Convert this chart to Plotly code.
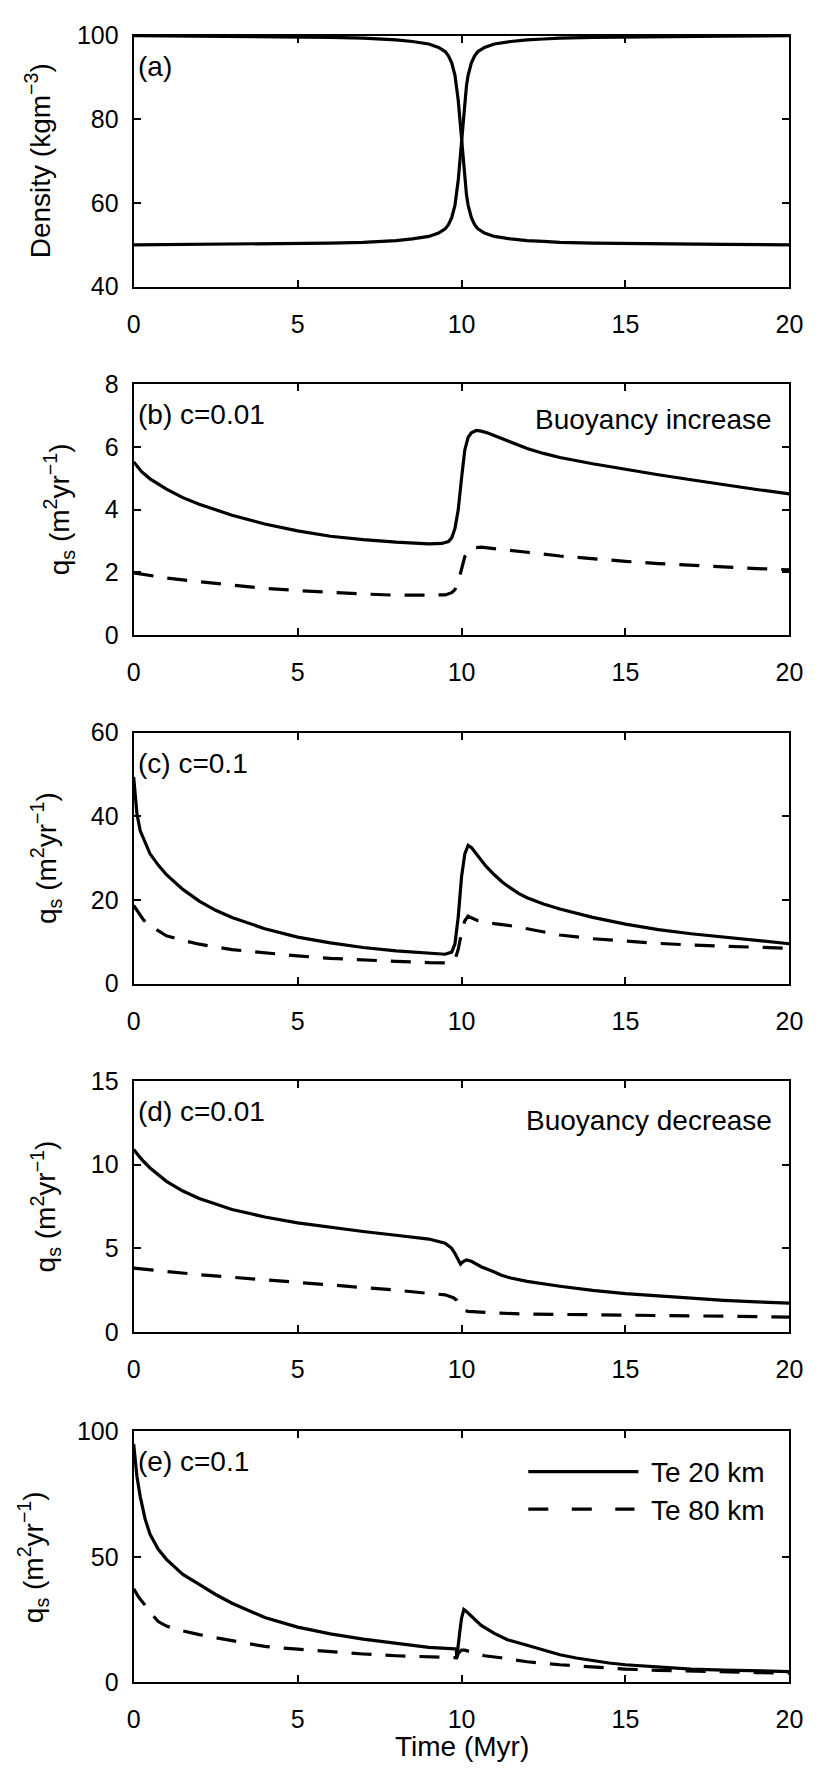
import plotly.graph_objects as go

W, H = 819, 1780

# ---------------- data ----------------
time_ticks = [0, 5, 10, 15, 20]

# (a) density
t_a = [0, 2, 4, 5, 6, 7, 7.5, 8, 8.5, 9, 9.3, 9.5, 9.6, 9.7, 9.8, 9.85, 9.9, 9.95, 10,
       10.05, 10.1, 10.15, 10.2, 10.3, 10.4, 10.5, 10.7, 11, 11.5, 12, 12.5, 13, 14, 15, 16, 18, 20]
rho_rise = [50.0, 50.1, 50.2, 50.3, 50.4, 50.6, 50.8, 51.0, 51.4, 52.0, 52.8, 53.8, 54.8, 56.5, 59.5, 62.0, 65.5, 70.0, 75.0,
            80.0, 84.5, 88.0, 90.5, 93.5, 95.2, 96.2, 97.2, 98.0, 98.6, 99.0, 99.2, 99.4, 99.6, 99.7, 99.8, 99.9, 100.0]
rho_fall = [100.0, 99.9, 99.8, 99.7, 99.6, 99.4, 99.2, 99.0, 98.6, 98.0, 97.2, 96.2, 95.2, 93.5, 90.5, 88.0, 84.5, 80.0, 75.0,
            70.0, 65.5, 62.0, 59.5, 56.5, 54.8, 53.8, 52.8, 52.0, 51.4, 51.0, 50.8, 50.6, 50.4, 50.3, 50.2, 50.1, 50.0]

# (b) c=0.01, buoyancy increase
t_b20 = [0, 0.25, 0.5, 1, 1.5, 2, 3, 4, 5, 6, 7, 8, 9, 9.4, 9.6, 9.7, 9.8, 9.9, 10, 10.1, 10.2, 10.3,
         10.45, 10.6, 10.8, 11, 11.5, 12, 12.5, 13, 14, 15, 16, 17, 18, 19, 20]
q_b20 = [5.52, 5.2, 4.98, 4.65, 4.38, 4.17, 3.82, 3.54, 3.32, 3.15, 3.04, 2.96, 2.91, 2.92, 2.98, 3.1, 3.4, 4.0, 5.0, 5.9, 6.3, 6.45,
         6.52, 6.5, 6.44, 6.36, 6.14, 5.95, 5.79, 5.66, 5.46, 5.28, 5.11, 4.95, 4.79, 4.64, 4.5]
t_b80 = [0, 1, 2, 3, 4, 5, 6, 7, 8, 9, 9.5, 9.7, 9.8, 9.9, 10, 10.1, 10.2, 10.35, 10.6, 11, 12, 13, 14, 15, 16, 17, 18, 19, 20]
q_b80 = [1.98, 1.82, 1.70, 1.59, 1.49, 1.42, 1.36, 1.31, 1.27, 1.26, 1.28, 1.35, 1.45, 1.7, 2.15, 2.5, 2.68, 2.78, 2.8, 2.76,
         2.64, 2.52, 2.43, 2.35, 2.28, 2.22, 2.17, 2.12, 2.08]

# (c) c=0.1, buoyancy increase
t_c20 = [0, 0.05, 0.1, 0.2, 0.35, 0.5, 0.75, 1, 1.5, 2, 2.5, 3, 4, 5, 6, 7, 8, 9, 9.5, 9.7, 9.8, 9.9, 10, 10.1, 10.2,
         10.3, 10.5, 10.75, 11, 11.25, 11.5, 11.75, 12, 12.5, 13, 13.5, 14, 15, 16, 17, 18, 19, 20]
q_c20 = [49.4, 44, 40.5, 36.5, 33.5, 31, 28.3, 26, 22.5, 19.7, 17.5, 15.8, 13.1, 11.1, 9.7, 8.6, 7.8, 7.2, 7.0, 7.5, 9.5, 16,
         25.5, 31, 33, 32.5, 30.5, 28, 26, 24.2, 22.8, 21.5, 20.5, 19.0, 17.8, 16.7, 15.8, 14.2, 12.9, 11.9, 11.1, 10.3, 9.5]
t_c80 = [0, 0.15, 0.3, 0.5, 1, 1.5, 2, 3, 4, 5, 6, 7, 8, 9, 9.5, 9.7, 9.8, 9.9, 10, 10.1, 10.2, 10.3, 10.5, 11, 11.5,
         12, 13, 14, 15, 16, 17, 18, 19, 20]
q_c80 = [18.7, 16.8, 15.2, 13.8, 11.4, 10.3, 9.4, 8.1, 7.3, 6.6, 6.0, 5.6, 5.3, 5.0, 4.95, 5.2, 5.7, 8.2, 12.2, 15, 16.1,
         15.7, 15.0, 14.3, 13.8, 13.1, 11.6, 10.7, 10.1, 9.6, 9.2, 8.9, 8.7, 8.4]

# (d) c=0.01, buoyancy decrease
t_d20 = [0, 0.25, 0.5, 1, 1.5, 2, 3, 4, 5, 6, 7, 8, 9, 9.5, 9.6, 9.7, 9.8, 9.9, 9.97, 10.05, 10.15, 10.3, 10.6, 11,
         11.2, 11.5, 12, 13, 14, 15, 16, 17, 18, 19, 20]
q_d20 = [10.9, 10.3, 9.8, 9.0, 8.42, 7.97, 7.32, 6.87, 6.52, 6.25, 6.0, 5.78, 5.55, 5.3, 5.16, 5.0, 4.69, 4.3, 4.05, 4.2,
         4.3, 4.22, 3.9, 3.58, 3.4, 3.22, 3.02, 2.73, 2.48, 2.29, 2.15, 2.01, 1.89, 1.8, 1.72]
t_d80 = [0, 1, 2, 3, 4, 5, 6, 7, 8, 9, 9.5, 9.75, 9.85, 9.95, 10.05, 10.2, 10.5, 11, 12, 13, 14, 15, 16, 17, 18, 19, 20]
q_d80 = [3.81, 3.61, 3.42, 3.27, 3.12, 2.97, 2.82, 2.66, 2.5, 2.3, 2.22, 2.05, 1.9, 1.5, 1.3, 1.23, 1.18, 1.13, 1.07, 1.04,
         1.02, 1.0, 0.98, 0.96, 0.94, 0.92, 0.88]

# (e) c=0.1, buoyancy decrease
t_e20 = [0, 0.05, 0.1, 0.2, 0.35, 0.5, 0.75, 1, 1.5, 2, 2.5, 3, 4, 5, 6, 7, 8, 9, 9.8, 9.84, 9.855, 9.9, 9.95, 10.0,
         10.07, 10.15, 10.3, 10.6, 11, 11.4, 12, 12.5, 13, 13.5, 14, 14.5, 15, 16, 17, 18, 19, 20]
q_e20 = [95, 88, 82, 74, 65, 59, 53, 49, 43, 39, 35, 31.5, 25.8, 22, 19.3, 17.2, 15.4, 13.9, 13.3, 13.2, 9.9, 14, 20.5,
         25.5, 29, 28.2, 26.3, 22.7, 19.5, 17, 14.8, 12.8, 11.0, 9.7, 8.6, 7.7, 7.0, 6.0, 5.3, 4.9, 4.6, 4.3]
t_e80 = [0, 0.15, 0.35, 0.5, 0.75, 1, 1.5, 2, 3, 4, 5, 6, 7, 8, 9, 9.85, 9.9, 10.0, 10.1, 10.4, 10.7, 11.2, 12, 13, 14,
         15, 16, 17, 18, 19, 20]
q_e80 = [37.3, 34, 30.7, 28, 24.2, 22.4, 20.5, 19, 16.6, 14.3, 13.2, 12.2, 11.3, 10.6, 10.0, 9.8, 11.5, 12.8, 12.8, 11.8,
         10.6, 9.8, 8.2, 7.0, 6.0, 5.3, 4.8, 4.4, 4.1, 3.9, 3.7]

y_ranges = [[40, 100], [0, 8], [0, 60], [0, 15], [0, 100]]
y_ticks = [[40, 60, 80, 100], [0, 2, 4, 6, 8], [0, 20, 40, 60], [0, 5, 10, 15], [0, 50, 100]]
panel_labels = ["(a)", "(b) c=0.01", "(c) c=0.1", "(d) c=0.01", "(e) c=0.1"]
y_titles = ["Density (kgm<sup>\u22123</sup>)"] + ["q<sub>s</sub> (m<sup>2</sup>yr<sup>\u22121</sup>)"] * 4
side_notes = {1: "Buoyancy increase", 3: "Buoyancy decrease"}
legend_names = ["Te 20 km", "Te 80 km"]

# ---------------- layout geometry (pixels) ----------------
FONT = "Liberation Sans, Arial, Helvetica, sans-serif"
TICK_SIZE = 25
TEXT_SIZE = 28
x_left, x_right = 130, 803
panel_top = [22, 376, 730, 1084, 1440]
panel_h = 255
ytitle_x = [32, 53, 40, 40, 27]
note_dy = {1: 36, 3: 40}


def px(x):
    return x / W


def py(y):
    return 1 - y / H


fig = go.Figure()

series = [
    [(t_a, rho_rise, "solid"), (t_a, rho_fall, "solid")],
    [(t_b20, q_b20, "solid"), (t_b80, q_b80, "dash")],
    [(t_c20, q_c20, "solid"), (t_c80, q_c80, "dash")],
    [(t_d20, q_d20, "solid"), (t_d80, q_d80, "dash")],
    [(t_e20, q_e20, "solid"), (t_e80, q_e80, "dash")],
]

DASH = "20px,14px"
for i, group in enumerate(series):
    suffix = "" if i == 0 else str(i + 1)
    for k, (tx, vals, style) in enumerate(group):
        fig.add_trace(go.Scatter(
            x=tx, y=vals, mode="lines",
            name=(legend_names[k] if i > 0 else "density"),
            line=dict(color="black", width=3.2, dash=(DASH if style == "dash" else "solid")),
            xaxis="x" + suffix, yaxis="y" + suffix, showlegend=False, hoverinfo="skip",
        ))

layout = dict(
    width=W, height=H, margin=dict(l=0, r=0, t=0, b=0, pad=0),
    paper_bgcolor="white", plot_bgcolor="white",
    font=dict(family=FONT, size=TICK_SIZE, color="black"),
    showlegend=False,
)

annotations = []
shapes = []
for i in range(5):
    suffix = "" if i == 0 else str(i + 1)
    top = panel_top[i]
    bot = top + panel_h
    axis_common = dict(
        showline=True, linecolor="black", linewidth=2, mirror="ticks",
        ticks="inside", ticklen=7, tickwidth=1.5, tickcolor="black",
        showgrid=False, zeroline=False,
        tickfont=dict(family=FONT, size=TICK_SIZE, color="black"),
    )
    layout["xaxis" + suffix] = dict(
        domain=[px(x_left), px(x_right)], range=[0, 20], tickvals=time_ticks,
        anchor="y" + suffix, ticklabelstandoff=14, **axis_common,
    )
    layout["yaxis" + suffix] = dict(
        domain=[py(bot), py(top)], range=y_ranges[i], tickvals=y_ticks[i],
        anchor="x" + suffix, ticklabelstandoff=8, **axis_common,
    )
    annotations.append(dict(
        text=panel_labels[i], xref="paper", yref="paper", x=px(x_left + 2), y=py(top + 31),
        xanchor="left", yanchor="middle", showarrow=False,
        font=dict(family=FONT, size=TEXT_SIZE, color="black"),
    ))
    annotations.append(dict(
        text=y_titles[i], xref="paper", yref="paper", x=px(ytitle_x[i]), y=py(top + panel_h / 2),
        xanchor="center", yanchor="middle", showarrow=False, textangle=-90,
        font=dict(family=FONT, size=TEXT_SIZE, color="black"),
    ))
    if i in side_notes:
        annotations.append(dict(
            text=side_notes[i], xref="paper", yref="paper", x=px(787), y=py(top + note_dy[i]),
            xanchor="right", yanchor="middle", showarrow=False,
            font=dict(family=FONT, size=TEXT_SIZE, color="black"),
        ))

# x-axis title of the bottom panel
annotations.append(dict(
    text="Time (Myr)", xref="paper", yref="paper", x=px((x_left + x_right) / 2), y=py(1760),
    xanchor="center", yanchor="middle", showarrow=False,
    font=dict(family=FONT, size=TEXT_SIZE, color="black"),
))

# legend (panel e)
leg_y = [1481, 1519]
leg_dash = ["solid", "20px,23.5px"]
for k in range(2):
    shapes.append(dict(
        type="line", xref="paper", yref="paper", x0=px(535), x1=px(644 if k else 648),
        y0=py(leg_y[k]), y1=py(leg_y[k]), line=dict(color="black", width=3.2, dash=leg_dash[k]),
    ))
    annotations.append(dict(
        text=legend_names[k], xref="paper", yref="paper", x=px(659), y=py(leg_y[k] + 1),
        xanchor="left", yanchor="middle", showarrow=False,
        font=dict(family=FONT, size=TEXT_SIZE, color="black"),
    ))

layout["annotations"] = annotations
layout["shapes"] = shapes
fig.update_layout(**layout)
fig.write_html("out.html")
